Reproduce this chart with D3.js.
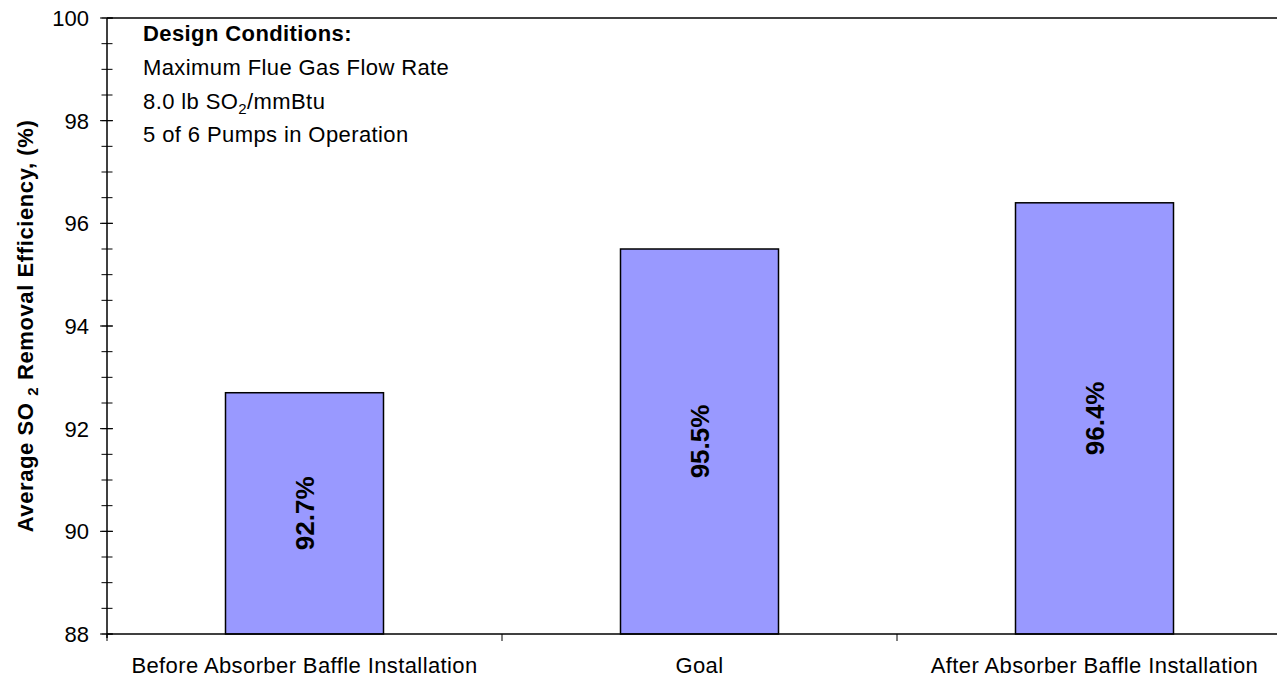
<!DOCTYPE html>
<html>
<head>
<meta charset="utf-8">
<script src="https://cdn.jsdelivr.net/npm/d3@7"></script>
<style>
  html, body { margin: 0; padding: 0; background: #fff; }
  svg { display: block; font-family: Arial, "Liberation Sans", Helvetica, sans-serif; }
</style>
</head>
<body>
<svg id="chart" width="1277" height="679"></svg>
<script>
// Average SO2 removal efficiency by condition
const categories = [
  "Before Absorber Baffle Installation",
  "Goal",
  "After Absorber Baffle Installation"
];
const efficiency = [92.7, 95.5, 96.4];
const yTicks = [88, 90, 92, 94, 96, 98, 100];
const yMinorTicks = d3.range(88, 100.01, 0.5);

const W = 1277, H = 679;
const margin = { left: 107, top: 18, bottom: 45 };
const plotRight = 1292;

const svg = d3.select("#chart");

const x = d3.scaleBand()
  .domain(categories)
  .range([margin.left, plotRight])
  .padding(0);

const y = d3.scaleLinear()
  .domain([88, 100])
  .range([H - margin.bottom, margin.top]);

const barFrac = 0.4;

// plot frame top edge
svg.append("line")
  .attr("x1", margin.left).attr("x2", plotRight)
  .attr("y1", y(100)).attr("y2", y(100))
  .attr("stroke", "#000").attr("stroke-width", 1.5);

// bars
svg.selectAll("rect.bar")
  .data(efficiency)
  .join("rect")
  .attr("class", "bar")
  .attr("x", (d, i) => x(categories[i]) + x.bandwidth() * (1 - barFrac) / 2)
  .attr("width", x.bandwidth() * barFrac)
  .attr("y", d => y(d))
  .attr("height", d => y(88) - y(d))
  .attr("fill", "#9999FF")
  .attr("stroke", "#000")
  .attr("stroke-width", 1.5);

// value labels, rotated inside each bar
svg.selectAll("text.val")
  .data(efficiency)
  .join("text")
  .attr("class", "val")
  .attr("transform", (d, i) => {
    const cx = x(categories[i]) + x.bandwidth() / 2;
    const cy = (y(d) + y(88)) / 2;
    return `translate(${cx},${cy}) rotate(-90)`;
  })
  .attr("text-anchor", "middle")
  .attr("dy", "0.36em")
  .attr("font-size", 26)
  .attr("font-weight", "bold")
  .text(d => d.toFixed(1) + "%");

// y axis with major and minor ticks
const yAxisG = svg.append("g").attr("transform", `translate(${margin.left},0)`);
yAxisG.append("line")
  .attr("x1", 0).attr("x2", 0)
  .attr("y1", y(100)).attr("y2", y(88) + 4)
  .attr("stroke", "#000").attr("stroke-width", 1.5);
yAxisG.selectAll("line.minor")
  .data(yMinorTicks)
  .join("line")
  .attr("class", "minor")
  .attr("x1", -5.5).attr("x2", 5.5)
  .attr("y1", d => y(d)).attr("y2", d => y(d))
  .attr("stroke", "#000").attr("stroke-width", 1);
yAxisG.selectAll("line.major")
  .data(yTicks)
  .join("line")
  .attr("class", "major")
  .attr("x1", -7).attr("x2", 6)
  .attr("y1", d => y(d)).attr("y2", d => y(d))
  .attr("stroke", "#000").attr("stroke-width", 1);
yAxisG.selectAll("text.tick")
  .data(yTicks)
  .join("text")
  .attr("class", "tick")
  .attr("x", -18)
  .attr("y", d => y(d))
  .attr("dy", "0.36em")
  .attr("text-anchor", "end")
  .attr("font-size", 22)
  .text(d => d);

// x axis with category boundary ticks
const xAxisG = svg.append("g");
xAxisG.append("line")
  .attr("x1", margin.left).attr("x2", plotRight)
  .attr("y1", y(88)).attr("y2", y(88))
  .attr("stroke", "#000").attr("stroke-width", 1.5);
const bounds = categories.map(c => x(c)).concat([x.range()[1]]);
xAxisG.selectAll("line.bt")
  .data(bounds)
  .join("line")
  .attr("class", "bt")
  .attr("x1", d => d).attr("x2", d => d)
  .attr("y1", y(88)).attr("y2", y(88) + 7)
  .attr("stroke", "#000").attr("stroke-width", 1);
xAxisG.selectAll("text.cat")
  .data(categories)
  .join("text")
  .attr("class", "cat")
  .attr("x", d => x(d) + x.bandwidth() / 2)
  .attr("y", y(88) + 39)
  .attr("text-anchor", "middle")
  .attr("font-size", 22)
  .attr("letter-spacing", 0.4)
  .text(d => d);

// y axis title
const yTitle = svg.append("text")
  .attr("transform", `translate(25,${(y(100) + y(88)) / 2}) rotate(-90)`)
  .attr("text-anchor", "middle")
  .attr("dy", "0.36em")
  .attr("font-size", 22)
  .attr("font-weight", "bold")
  .attr("letter-spacing", 0.6);
yTitle.append("tspan").text("Average SO ");
yTitle.append("tspan").attr("font-size", 15).attr("dy", 5).text("2");
yTitle.append("tspan").attr("dy", -5).text(" Removal Efficiency, (%)");

// design conditions note
const note = svg.append("g").attr("transform", "translate(143,0)")
  .attr("font-size", 22).attr("letter-spacing", 0.4);
note.append("text").attr("y", 41).attr("font-weight", "bold")
  .text("Design Conditions:");
note.append("text").attr("y", 75)
  .text("Maximum Flue Gas Flow Rate");
const l3 = note.append("text").attr("y", 109);
l3.append("tspan").text("8.0 lb SO");
l3.append("tspan").attr("font-size", 15).attr("dy", 5).text("2");
l3.append("tspan").attr("dy", -5).text("/mmBtu");
note.append("text").attr("y", 142)
  .text("5 of 6 Pumps in Operation");
</script>
</body>
</html>
